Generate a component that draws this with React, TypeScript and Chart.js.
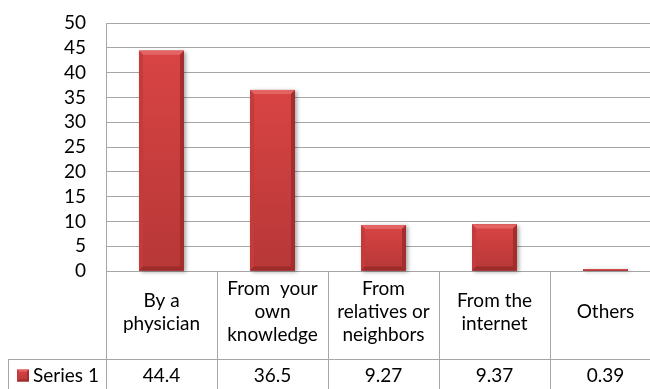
import React, { useEffect, useRef } from "react";
import { Chart, registerables } from "chart.js";

Chart.register(...registerables);

// ---- data ----
const categories: string[][] = [
  ["By a", "physician"],
  ["From  your", "own", "knowledge"],
  ["From", "relatives or", "neighbors"],
  ["From the", "internet"],
  ["Others"],
];
const seriesName = "Series 1";
const seriesValues: number[] = [44.4, 36.5, 9.27, 9.37, 0.39];
const yMin = 0;
const yMax = 50;
const yStep = 5;

// ---- style ----
const FONT = "Lato, 'Open Sans', sans-serif";
const FONT_SIZE = 19;
const GRID = "#A6A6A6";
const CANVAS_W = 670;
const CANVAS_H = 395;
const CAT_ROW_H = 88;
const VAL_ROW_H = 33;
const LINE_H = 23;

function poly(ctx: CanvasRenderingContext2D, pts: number[][], color: string) {
  ctx.beginPath();
  ctx.moveTo(pts[0][0], pts[0][1]);
  for (let i = 1; i < pts.length; i++) ctx.lineTo(pts[i][0], pts[i][1]);
  ctx.closePath();
  ctx.fillStyle = color;
  ctx.fill();
}

function shadeRect(ctx: CanvasRenderingContext2D, l: number, t: number, w: number, h: number, bevel: number) {
  const r = l + w;
  const b = t + h;
  const bv = Math.max(0, Math.min(bevel, h / 2, w / 2));
  const g = ctx.createLinearGradient(0, t, 0, b);
  g.addColorStop(0, "#D94444");
  g.addColorStop(1, "#B73737");
  ctx.fillStyle = g;
  ctx.fillRect(l, t, w, h);
  poly(ctx, [[l, t], [r, t], [r - bv, t + bv], [l + bv, t + bv]], "#E46464");
  poly(ctx, [[l, t], [l + bv, t + bv], [l + bv, b - bv], [l, b]], "#C43B3B");
  poly(ctx, [[r, t], [r - bv, t + bv], [r - bv, b - bv], [r, b]], "#A52D2D");
  poly(ctx, [[l, b], [l + bv, b - bv], [r - bv, b - bv], [r, b]], "#9E2B2B");
}

const barStylePlugin = {
  id: "barStyle",
  beforeDatasetsDraw(chart: any) {
    const ctx = chart.ctx as CanvasRenderingContext2D;
    const meta = chart.getDatasetMeta(0);
    ctx.save();
    ctx.shadowColor = "rgba(0,0,0,0.35)";
    ctx.shadowBlur = 4;
    ctx.shadowOffsetX = 2;
    ctx.shadowOffsetY = 1;
    meta.data.forEach((el: any) => {
      const { x, y, base, width } = el.getProps(["x", "y", "base", "width"], true);
      const t = Math.min(y, base);
      const h = Math.abs(base - y);
      ctx.fillStyle = "#B53737";
      ctx.fillRect(x - width / 2, t, width, h);
    });
    ctx.restore();
  },
  afterDatasetsDraw(chart: any) {
    const ctx = chart.ctx as CanvasRenderingContext2D;
    const meta = chart.getDatasetMeta(0);
    ctx.save();
    meta.data.forEach((el: any) => {
      const { x, y, base, width } = el.getProps(["x", "y", "base", "width"], true);
      const t = Math.min(y, base);
      const h = Math.abs(base - y);
      shadeRect(ctx, x - width / 2, t, width, h, 4);
    });
    ctx.restore();
  },
};

const tablePlugin = {
  id: "dataTable",
  afterDraw(chart: any) {
    const ctx = chart.ctx as CanvasRenderingContext2D;
    const xs = chart.scales.x;
    const n = categories.length;
    const cw = (xs.right - xs.left) / n;
    const top = xs.top;
    const rowY = top + CAT_ROW_H;
    const rowB = rowY + VAL_ROW_H;
    const bottom = chart.height;
    const al = (v: number) => Math.round(v) + 0.5;

    ctx.save();
    ctx.strokeStyle = GRID;
    ctx.lineWidth = 1;
    ctx.beginPath();
    for (let i = 0; i <= n; i++) {
      const bx = i < n ? xs.getPixelForValue(i) - cw / 2 : xs.getPixelForValue(n - 1) + cw / 2;
      ctx.moveTo(al(bx), top);
      ctx.lineTo(al(bx), bottom);
    }
    ctx.moveTo(8, al(rowY));
    ctx.lineTo(xs.right, al(rowY));
    ctx.moveTo(al(8), rowY);
    ctx.lineTo(al(8), bottom);
    ctx.moveTo(8, al(rowB));
    ctx.lineTo(xs.right, al(rowB));
    ctx.stroke();

    ctx.fillStyle = "#000";
    ctx.font = `${FONT_SIZE}px ${FONT}`;
    ctx.textAlign = "center";
    ctx.textBaseline = "middle";
    const cy = (top + rowY) / 2 - 3;
    categories.forEach((lines, i) => {
      const cx = xs.getPixelForValue(i);
      lines.forEach((ln, j) => {
        ctx.fillText(ln, cx, cy + (j - (lines.length - 1) / 2) * LINE_H);
      });
    });
    const vy = (rowY + rowB) / 2;
    seriesValues.forEach((v, i) => {
      ctx.fillText(String(v), xs.getPixelForValue(i), vy);
    });
    shadeRect(ctx, 17, vy - 6, 12, 12, 2);
    ctx.fillStyle = "#000";
    ctx.textAlign = "left";
    ctx.fillText(seriesName, 33, vy);
    ctx.restore();
  },
};

export default function App() {
  const ref = useRef<HTMLCanvasElement | null>(null);
  useEffect(() => {
    if (!ref.current) return;
    const chart = new Chart(ref.current, {
      type: "bar",
      data: {
        labels: categories.map((c) => c.join(" ")),
        datasets: [
          {
            label: seriesName,
            data: seriesValues,
            backgroundColor: "#C83E3E",
            borderWidth: 0,
            barPercentage: 0.405,
            categoryPercentage: 1,
          },
        ],
      },
      options: {
        responsive: false,
        maintainAspectRatio: false,
        animation: false,
        layout: { padding: { top: 23, right: CANVAS_W - 661, left: 0, bottom: 0 } },
        plugins: {
          legend: { display: false },
          tooltip: { enabled: false },
          title: { display: false },
        },
        scales: {
          x: {
            type: "category",
            offset: true,
            grid: { display: false },
            border: { display: true, color: GRID },
            ticks: { display: false },
            afterFit: (s: any) => {
              s.height = CANVAS_H - 271;
              s.paddingLeft = 0;
              s.paddingRight = 0;
            },
          },
          y: {
            min: yMin,
            max: yMax,
            ticks: {
              stepSize: yStep,
              autoSkip: false,
              color: "#000",
              font: { family: FONT, size: FONT_SIZE },
              padding: 20,
            },
            grid: { color: GRID, drawTicks: false },
            border: { display: true, color: GRID },
            afterFit: (s: any) => {
              s.width = 106;
              s.paddingTop = 0;
              s.paddingBottom = 0;
            },
          },
        },
      },
      plugins: [barStylePlugin, tablePlugin],
    } as any);
    return () => chart.destroy();
  }, []);
  return (
    <div
      style={{
        position: "fixed",
        left: 0,
        top: 0,
        width: 650,
        height: 389,
        overflow: "hidden",
        background: "#fff",
      }}
    >
      <canvas
        ref={ref}
        width={CANVAS_W}
        height={CANVAS_H}
        style={{ display: "block", width: CANVAS_W, height: CANVAS_H }}
      />
    </div>
  );
}
